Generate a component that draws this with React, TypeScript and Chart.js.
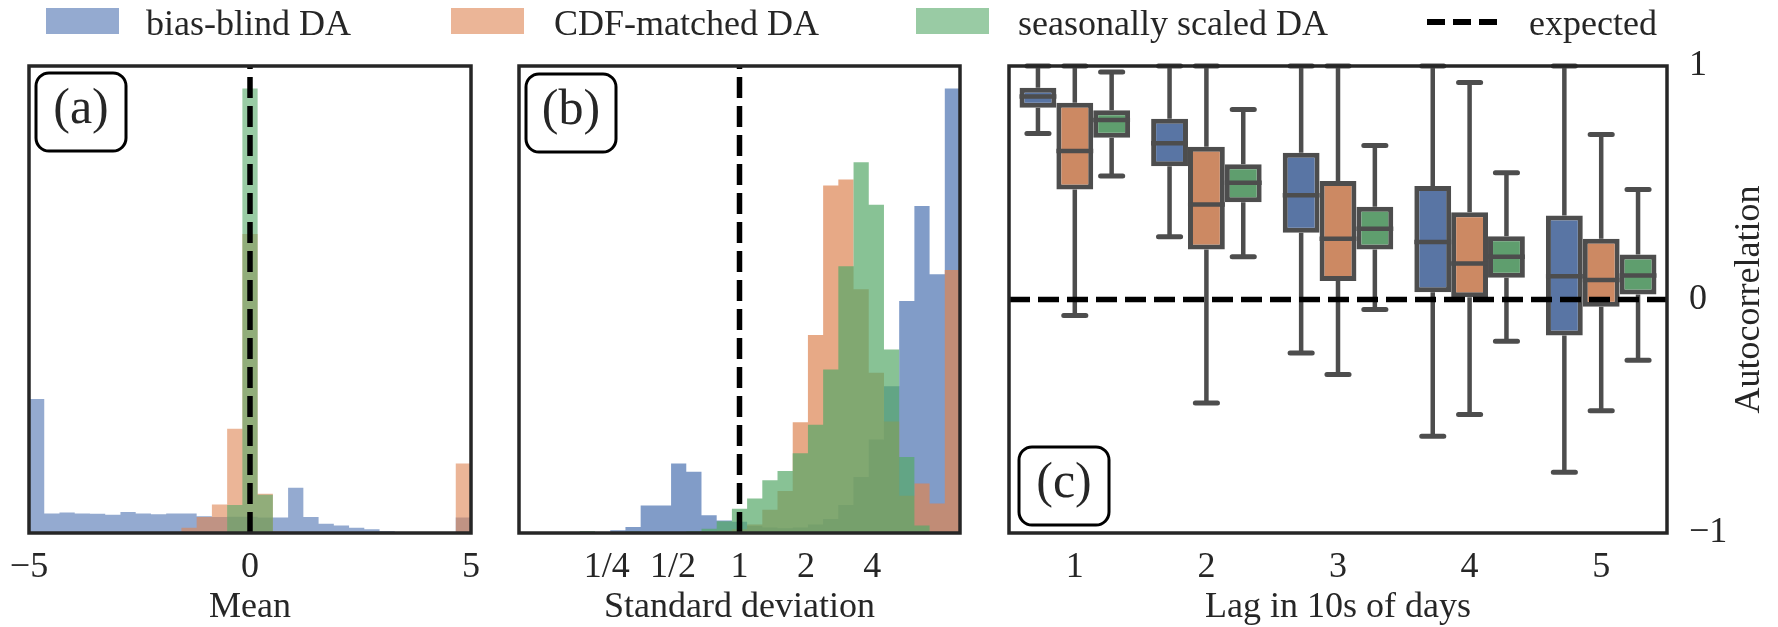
import React, { useEffect, useRef } from 'react';
import { Chart, registerables } from 'chart.js';

Chart.register(...registerables);

const SERIF = "'Liberation Serif', 'Times New Roman', Times, serif";
const TEXT = '#262626';
const FRAME = '#262626';
const LINE = '#4d4d4d';

const BLUE = [76, 114, 176];
const ORANGE = [221, 132, 82];
const GREEN = [85, 168, 104];
const rgba = (c: number[], a: number) => `rgba(${c[0]},${c[1]},${c[2]},${a})`;
const BOX_COLORS = ['#5975a4', '#cc8963', '#5f9e6e'];

const seriesNames = ['bias-blind DA', 'CDF-matched DA', 'seasonally scaled DA'];
const expectedName = 'expected';

// ---------- Panel (a): mean, 29 bins over [-5, 5] ----------
const meanMin = -5;
const meanMax = 5;
const meanBinCount = 29;
const meanBlind = [28.7, 4.2, 4.4, 4.2, 4.1, 3.9, 4.5, 4.2, 4.0, 4.2, 4.2, 3.6, 3.4, 3.5, 3.5, 3.3, 3.3, 9.7, 3.4, 2.0, 1.6, 1.1, 0.8, 0.4, 0.2, 0.15, 0.1, 0.05, 3.3];
const meanCdf = [0, 0, 0, 0, 0, 0, 0, 0, 0, 0.15, 1.1, 3.4, 6.1, 22.3, 64.0, 8.4, 0.3, 0, 0, 0, 0, 0, 0, 0, 0, 0, 0, 0, 14.9];
const meanSeasonal = [0, 0, 0, 0, 0, 0, 0, 0, 0, 0, 0, 0, 0.2, 6.0, 95.2, 8.2, 0.2, 0, 0, 0, 0, 0, 0, 0, 0, 0, 0, 0, 0];
const meanTicks = [-5, 0, 5];
const meanTickLabels = ['\u22125', '0', '5'];

// ---------- Panel (b): standard deviation, 29 log bins over [0.1, 10] ----------
const sdMin = 0.1;
const sdMax = 10;
const sdBinCount = 29;
const sdBlind = [0, 0, 0, 0, 0.1, 0.2, 0.6, 1.3, 5.9, 5.9, 14.9, 13.1, 3.8, 2.7, 2.4, 1.5, 1.2, 1.0, 1.2, 1.8, 3.0, 6.0, 12.0, 20.0, 31.4, 49.7, 70.0, 55.4, 95.2];
const sdCdf = [0.2, 0, 0, 0, 0.1, 0.1, 0, 0.1, 0, 0.1, 0.1, 0.2, 0.3, 0.5, 0.8, 1.8, 5.0, 9.0, 23.7, 42.4, 74.4, 75.7, 52.2, 34.3, 23.9, 8.0, 10.6, 6.3, 56.3];
const sdSeasonal = [0, 0, 0, 0, 0.4, 0.2, 0.2, 0.3, 0.2, 0.1, 0.2, 0.4, 0.9, 2.5, 5.2, 7.4, 11.3, 13.3, 17.1, 23.2, 35.0, 57.1, 79.4, 70.3, 39.3, 16.3, 1.6, 0, 0];
const sdTicks = [0.25, 0.5, 1, 2, 4];
const sdTickLabels = ['1/4', '1/2', '1', '2', '4'];

// ---------- Panel (c): autocorrelation box plots ----------
const lagLabels = ['1', '2', '3', '4', '5'];
const blindLo = [0.711, 0.269, -0.229, -0.586, -0.74];
const blindQ1 = [0.821, 0.571, 0.286, 0.031, -0.154];
const blindMed = [0.869, 0.669, 0.446, 0.246, 0.1];
const blindQ3 = [0.907, 0.774, 0.629, 0.486, 0.36];
const blindHi = [1.0, 1.0, 1.0, 1.0, 1.0];

const cdfLo = [-0.069, -0.443, -0.321, -0.493, -0.476];
const cdfQ1 = [0.471, 0.214, 0.079, 0.01, -0.031];
const cdfMed = [0.636, 0.407, 0.26, 0.154, 0.083];
const cdfQ3 = [0.843, 0.654, 0.507, 0.374, 0.26];
const cdfHi = [1.0, 1.0, 1.0, 0.929, 0.707];

const seasLo = [0.529, 0.183, -0.043, -0.179, -0.26];
const seasQ1 = [0.693, 0.417, 0.214, 0.093, 0.021];
const seasMed = [0.769, 0.5, 0.303, 0.183, 0.103];
const seasQ3 = [0.811, 0.579, 0.397, 0.271, 0.193];
const seasHi = [0.974, 0.814, 0.66, 0.543, 0.471];

const autoTicks = [-1, 0, 1];

const boxSeries = [
  { lo: blindLo, q1: blindQ1, med: blindMed, q3: blindQ3, hi: blindHi },
  { lo: cdfLo, q1: cdfQ1, med: cdfMed, q3: cdfQ3, hi: cdfHi },
  { lo: seasLo, q1: seasQ1, med: seasMed, q3: seasQ3, hi: seasHi },
];

// ---------- helpers ----------
const FONT_SIZE = 36;
const DASH = [21, 8];
const DASH_W = 5.5;

function binEdges(min: number, max: number, n: number) {
  const w = (max - min) / n;
  return Array.from({ length: n + 1 }, (_, i) => min + i * w);
}

// step outline of a histogram: one point per bin edge, value held until the next edge
function stepPoints(edges: number[], counts: number[]) {
  return edges.map((x, i) => ({ x, y: counts[Math.min(i, counts.length - 1)] }));
}

function roundRectPath(ctx: CanvasRenderingContext2D, x: number, y: number, w: number, h: number, r: number) {
  ctx.beginPath();
  ctx.moveTo(x + r, y);
  ctx.lineTo(x + w - r, y);
  ctx.arcTo(x + w, y, x + w, y + r, r);
  ctx.lineTo(x + w, y + h - r);
  ctx.arcTo(x + w, y + h, x + w - r, y + h, r);
  ctx.lineTo(x + r, y + h);
  ctx.arcTo(x, y + h, x, y + h - r, r);
  ctx.lineTo(x, y + r);
  ctx.arcTo(x, y, x + r, y, r);
  ctx.closePath();
}

function framePlugin(label: string, dx: number, dy: number, fromBottom: boolean) {
  return {
    id: 'frame',
    afterDraw(chart: any) {
      const { ctx, chartArea: a } = chart;
      ctx.save();
      ctx.strokeStyle = FRAME;
      ctx.lineWidth = 3.5;
      ctx.strokeRect(a.left, a.top, a.right - a.left, a.bottom - a.top);
      const w = 90;
      const h = 78;
      const x = a.left + dx;
      const y = fromBottom ? a.bottom - dy - h : a.top + dy;
      roundRectPath(ctx, x, y, w, h, 13);
      ctx.fillStyle = '#ffffff';
      ctx.fill();
      ctx.strokeStyle = '#000000';
      ctx.lineWidth = 3;
      ctx.stroke();
      ctx.fillStyle = TEXT;
      ctx.font = `50px ${SERIF}`;
      ctx.textAlign = 'center';
      ctx.textBaseline = 'middle';
      ctx.fillText(label, x + w / 2, y + h / 2 - 2);
      ctx.restore();
    },
  };
}

const vlinePlugin = {
  id: 'vline',
  afterDatasetsDraw(chart: any) {
    const { ctx, chartArea: a } = chart;
    const x = chart.scales.x.getPixelForValue(0);
    ctx.save();
    ctx.strokeStyle = '#000';
    ctx.lineWidth = DASH_W;
    ctx.setLineDash(DASH);
    ctx.beginPath();
    ctx.moveTo(x, a.bottom);
    ctx.lineTo(x, a.top);
    ctx.stroke();
    ctx.restore();
  },
};

const boxPlugin = {
  id: 'boxes',
  beforeDatasetsDraw(chart: any) {
    const { ctx } = chart;
    const ys = chart.scales.y;
    ctx.save();
    ctx.strokeStyle = LINE;
    boxSeries.forEach((s, d) => {
      const meta = chart.getDatasetMeta(d);
      meta.data.forEach((bar: any, i: number) => {
        const x = bar.x;
        const cw = bar.width * 0.3;
        const yHi = ys.getPixelForValue(s.hi[i]);
        const yQ3 = ys.getPixelForValue(s.q3[i]);
        const yQ1 = ys.getPixelForValue(s.q1[i]);
        const yLo = ys.getPixelForValue(s.lo[i]);
        ctx.lineWidth = 4.5;
        ctx.lineCap = 'butt';
        ctx.beginPath();
        ctx.moveTo(x, yQ3);
        ctx.lineTo(x, yHi);
        ctx.moveTo(x, yQ1);
        ctx.lineTo(x, yLo);
        ctx.stroke();
        ctx.lineCap = 'round';
        ctx.lineWidth = 5;
        ctx.beginPath();
        ctx.moveTo(x - cw, yHi);
        ctx.lineTo(x + cw, yHi);
        ctx.moveTo(x - cw, yLo);
        ctx.lineTo(x + cw, yLo);
        ctx.stroke();
      });
    });
    ctx.restore();
  },
  afterDatasetsDraw(chart: any) {
    const { ctx, chartArea: a } = chart;
    const ys = chart.scales.y;
    ctx.save();
    ctx.strokeStyle = LINE;
    ctx.lineWidth = 4.5;
    boxSeries.forEach((s, d) => {
      const meta = chart.getDatasetMeta(d);
      meta.data.forEach((bar: any, i: number) => {
        const y = ys.getPixelForValue(s.med[i]);
        ctx.beginPath();
        ctx.moveTo(bar.x - bar.width / 2, y);
        ctx.lineTo(bar.x + bar.width / 2, y);
        ctx.stroke();
      });
    });
    const y0 = ys.getPixelForValue(0);
    ctx.strokeStyle = '#000';
    ctx.lineWidth = DASH_W;
    ctx.setLineDash(DASH);
    ctx.beginPath();
    ctx.moveTo(a.left, y0);
    ctx.lineTo(a.right, y0);
    ctx.stroke();
    ctx.restore();
  },
  afterDraw(chart: any) {
    const { ctx, chartArea: a } = chart;
    ctx.save();
    ctx.translate(a.right + 83, (a.top + a.bottom) / 2);
    ctx.rotate(-Math.PI / 2);
    ctx.fillStyle = TEXT;
    ctx.font = `${FONT_SIZE}px ${SERIF}`;
    ctx.textAlign = 'center';
    ctx.textBaseline = 'middle';
    ctx.fillText('Autocorrelation', 0, 0);
    ctx.restore();
  },
};

const tickFont = { family: SERIF, size: FONT_SIZE, lineHeight: 1.2 };
const titleFont = { family: SERIF, size: FONT_SIZE, lineHeight: 1.1 };

function histConfig(edges: number[], a: number[], b: number[], c: number[], alpha: number, xOpts: any, title: string, padding: any, plugins: any[]) {
  // higher order is drawn first, so blue lies at the bottom and green on top
  const ds = (label: string, data: number[], col: number[], order: number) => ({
    label,
    data: stepPoints(edges, data),
    stepped: 'before',
    fill: 'origin',
    backgroundColor: rgba(col, alpha),
    borderColor: 'rgba(0,0,0,0)',
    borderWidth: 0,
    pointRadius: 0,
    order,
  });
  return {
    type: 'line',
    data: { datasets: [ds(seriesNames[0], a, BLUE, 3), ds(seriesNames[1], b, ORANGE, 2), ds(seriesNames[2], c, GREEN, 1)] },
    options: {
      responsive: false,
      animation: false,
      events: [],
      layout: { padding },
      plugins: { legend: { display: false }, tooltip: { enabled: false } },
      scales: {
        x: {
          type: 'linear',
          offset: false,
          grid: { display: false },
          border: { display: false },
          ...xOpts,
          ticks: { ...xOpts.ticks, font: tickFont, color: TEXT, padding: 5, maxRotation: 0, autoSkip: false },
          title: { display: true, text: title, font: titleFont, color: TEXT, padding: 0 },
          afterFit: (axis: any) => { axis.height = 94; },
        },
        y: { display: false, min: 0, max: 100 },
      },
    },
    plugins,
  };
}

export default function App() {
  const aRef = useRef<HTMLCanvasElement>(null);
  const bRef = useRef<HTMLCanvasElement>(null);
  const cRef = useRef<HTMLCanvasElement>(null);

  useEffect(() => {
    const charts: Chart[] = [];

    const meanEdges = binEdges(meanMin, meanMax, meanBinCount);
    charts.push(new Chart(aRef.current as HTMLCanvasElement, histConfig(
      meanEdges, meanBlind, meanCdf, meanSeasonal, 0.6,
      {
        min: meanMin, max: meanMax,
        afterBuildTicks: (axis: any) => { axis.ticks = meanTicks.map((v) => ({ value: v })); },
        ticks: { callback: (_v: any, i: number) => meanTickLabels[i] },
      },
      'Mean', { left: 29, right: 24, top: 66, bottom: 0 },
      [vlinePlugin, framePlugin('(a)', 7, 7, false)],
    ) as any));

    const sdEdges = binEdges(Math.log10(sdMin), Math.log10(sdMax), sdBinCount);
    charts.push(new Chart(bRef.current as HTMLCanvasElement, histConfig(
      sdEdges, sdBlind, sdCdf, sdSeasonal, 0.7,
      {
        min: Math.log10(sdMin), max: Math.log10(sdMax),
        afterBuildTicks: (axis: any) => { axis.ticks = sdTicks.map((v) => ({ value: Math.log10(v) })); },
        ticks: { callback: (_v: any, i: number) => sdTickLabels[i] },
      },
      'Standard deviation', { left: 24, right: 30, top: 66, bottom: 0 },
      [vlinePlugin, framePlugin('(b)', 7, 8, false)],
    ) as any));

    charts.push(new Chart(cRef.current as HTMLCanvasElement, {
      type: 'bar',
      data: {
        labels: lagLabels,
        datasets: boxSeries.map((s, d) => ({
          label: seriesNames[d],
          data: s.q1.map((q, i) => [q, s.q3[i]]),
          backgroundColor: BOX_COLORS[d],
          borderColor: LINE,
          borderWidth: 5,
          borderSkipped: false,
          categoryPercentage: 0.84,
          barPercentage: 1,
        })),
      },
      options: {
        responsive: false,
        animation: false,
        events: [],
        layout: { padding: { left: 19, right: 0, top: 66, bottom: 0 } },
        plugins: { legend: { display: false }, tooltip: { enabled: false } },
        scales: {
          x: {
            type: 'category',
            offset: true,
            grid: { display: false },
            border: { display: false },
            ticks: { font: tickFont, color: TEXT, padding: 5, maxRotation: 0 },
            title: { display: true, text: 'Lag in 10s of days', font: titleFont, color: TEXT, padding: 0 },
            afterFit: (axis: any) => { axis.height = 94; },
          },
          y: {
            position: 'right',
            min: -1,
            max: 1,
            grid: { display: false },
            border: { display: false },
            afterBuildTicks: (axis: any) => { axis.ticks = autoTicks.map((v) => ({ value: v })); },
            ticks: {
              font: tickFont, color: TEXT, padding: 14,
              callback: (v: any) => (v < 0 ? '\u2212' + Math.abs(v) : String(v)),
            },
            afterFit: (axis: any) => { axis.width = 111; },
          },
        },
      },
      plugins: [boxPlugin, framePlugin('(c)', 10, 8, true)],
    } as any));

    return () => charts.forEach((c) => c.destroy());
  }, []);

  const legendText: React.CSSProperties = {
    position: 'absolute', top: 5, fontSize: FONT_SIZE, lineHeight: '36px', color: TEXT, whiteSpace: 'nowrap',
  };
  const patch = (left: number, col: number[]): React.CSSProperties => ({
    position: 'absolute', left, top: 8, width: 73, height: 26, background: rgba(col, 0.6),
  });
  const dash = (left: number): React.CSSProperties => ({
    position: 'absolute', left, top: 19, width: 18, height: 6, background: '#000',
  });

  return (
    <div style={{ position: 'absolute', left: 0, top: 0, width: 1778, height: 627, background: '#fff', fontFamily: SERIF, overflow: 'hidden' }}>
      <canvas ref={aRef} width={495} height={627} style={{ position: 'absolute', left: 0, top: 0 }} />
      <canvas ref={bRef} width={495} height={627} style={{ position: 'absolute', left: 495, top: 0 }} />
      <canvas ref={cRef} width={788} height={627} style={{ position: 'absolute', left: 990, top: 0 }} />
      <div style={patch(46, BLUE)} />
      <div style={{ ...legendText, left: 146 }}>{seriesNames[0]}</div>
      <div style={patch(451, ORANGE)} />
      <div style={{ ...legendText, left: 554 }}>{seriesNames[1]}</div>
      <div style={patch(916, GREEN)} />
      <div style={{ ...legendText, left: 1018 }}>{seriesNames[2]}</div>
      <div style={dash(1427)} />
      <div style={dash(1453)} />
      <div style={dash(1479)} />
      <div style={{ ...legendText, left: 1529 }}>{expectedName}</div>
    </div>
  );
}
